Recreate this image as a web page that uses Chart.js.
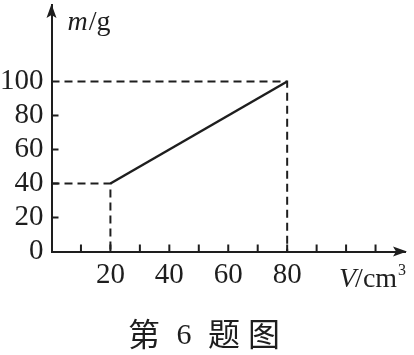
<!DOCTYPE html>
<html>
<head>
<meta charset="utf-8">
<script src="https://cdn.jsdelivr.net/npm/chart.js@4"></script>
<style>
  html, body { margin: 0; padding: 0; background: #fff; }
  #wrap { width: 414px; height: 355px; }
</style>
</head>
<body>
<div id="wrap"><canvas id="out"></canvas></div>
<script>
// data
const lineV = [20, 80];
const lineM = [40, 100];
const xTickMarks = [10, 20, 30, 40, 50, 60, 70, 80, 90, 100, 110];
const xTickLabels = [20, 40, 60, 80];
const yTickLabels = [0, 20, 40, 60, 80, 100];
const yTickMarks = [20, 40, 60, 80];
const xMax = 120;
const yMax = 145;

const ink = "#1e1e1e";
const serif = "'Liberation Serif', 'DejaVu Serif', serif";

// dashed guides from the two end points to the axes
const guide = (pts) => ({
  data: pts,
  showLine: true,
  borderColor: ink,
  borderWidth: 2,
  borderDash: [8, 5],
  pointRadius: 0,
  fill: false
});

const axisDecor = {
  id: "axisDecor",
  afterDraw(chart) {
    const ctx = chart.ctx;
    const xs = chart.scales.x;
    const ys = chart.scales.y;
    const x0 = xs.getPixelForValue(0);
    const y0 = ys.getPixelForValue(0);
    const right = xs.getPixelForValue(xMax);
    const top = ys.getPixelForValue(yMax);
    ctx.save();
    ctx.strokeStyle = ink;
    ctx.fillStyle = ink;
    ctx.lineWidth = 2;
    // inward tick marks
    ctx.beginPath();
    xTickMarks.forEach(v => {
      const px = xs.getPixelForValue(v);
      ctx.moveTo(px, y0);
      ctx.lineTo(px, y0 - 7);
    });
    yTickMarks.forEach(v => {
      const py = ys.getPixelForValue(v);
      ctx.moveTo(x0, py);
      ctx.lineTo(x0 + 7, py);
    });
    ctx.stroke();
    // arrow heads
    ctx.beginPath();
    ctx.moveTo(right + 2, y0);
    ctx.lineTo(right - 12, y0 - 5);
    ctx.lineTo(right - 9, y0);
    ctx.lineTo(right - 12, y0 + 5);
    ctx.closePath();
    ctx.fill();
    ctx.beginPath();
    ctx.moveTo(x0, top - 1);
    ctx.lineTo(x0 - 5, top + 13);
    ctx.lineTo(x0, top + 10);
    ctx.lineTo(x0 + 5, top + 13);
    ctx.closePath();
    ctx.fill();

    // axis names
    ctx.textBaseline = "alphabetic";
    ctx.textAlign = "left";
    let tx = x0 + 16;
    ctx.font = "italic 28px " + serif;
    ctx.fillText("m", tx, 30);
    tx += ctx.measureText("m").width + 1;
    ctx.font = "28px " + serif;
    ctx.fillText("/g", tx, 30);

    tx = 339;
    ctx.font = "italic 28px " + serif;
    ctx.fillText("V", tx, 287);
    tx += ctx.measureText("V").width - 1;
    ctx.font = "28px " + serif;
    ctx.fillText("/cm", tx, 287);
    tx += ctx.measureText("/cm").width + 1;
    ctx.font = "16px " + serif;
    ctx.fillText("3", tx, 275);

    // caption
    ctx.textAlign = "center";
    ctx.textBaseline = "middle";
    ctx.font = "32px 'Noto Sans CJK SC'";
    ctx.fillText("第", 144, 334);
    ctx.fillText("题", 224, 334);
    ctx.fillText("图", 264, 334);
    ctx.font = "30px " + serif;
    ctx.fillText("6", 184, 336);
    ctx.restore();
  }
};

const noPad = s => {
  s.paddingTop = 0;
  s.paddingBottom = 0;
  s.paddingLeft = 0;
  s.paddingRight = 0;
};

const chartConfig = {
  type: "scatter",
  data: {
    datasets: [
      guide([{ x: 0, y: lineM[0] }, { x: lineV[0], y: lineM[0] }, { x: lineV[0], y: 0 }]),
      guide([{ x: 0, y: lineM[1] }, { x: lineV[1], y: lineM[1] }, { x: lineV[1], y: 0 }]),
      {
        data: lineV.map((v, i) => ({ x: v, y: lineM[i] })),
        showLine: true,
        borderColor: ink,
        borderWidth: 2.5,
        pointRadius: 0,
        fill: false
      }
    ]
  },
  options: {
    responsive: true,
    maintainAspectRatio: false,
    animation: false,
    layout: { padding: { top: 5, right: 9, left: 0, bottom: 0 } },
    plugins: { legend: { display: false }, tooltip: { enabled: false } },
    scales: {
      x: {
        type: "linear",
        min: 0,
        max: xMax,
        afterBuildTicks: s => { s.ticks = xTickLabels.map(v => ({ value: v })); },
        afterFit: s => { s.height = 103.5; noPad(s); },
        grid: { display: false, drawTicks: false },
        border: { display: true, color: ink, width: 2 },
        ticks: { color: ink, padding: 6, font: { family: serif, size: 29 }, maxRotation: 0, autoSkip: false }
      },
      y: {
        type: "linear",
        min: 0,
        max: yMax,
        afterBuildTicks: s => { s.ticks = yTickLabels.map(v => ({ value: v })); },
        afterFit: s => { s.width = 51.5; noPad(s); },
        grid: { display: false, drawTicks: false },
        border: { display: true, color: ink, width: 2 },
        ticks: { color: ink, padding: 8, font: { family: serif, size: 29 }, autoSkip: false }
      }
    }
  },
  plugins: [axisDecor]
};

window.chart = new Chart(document.getElementById("out").getContext("2d"), chartConfig);
</script>
</body>
</html>
